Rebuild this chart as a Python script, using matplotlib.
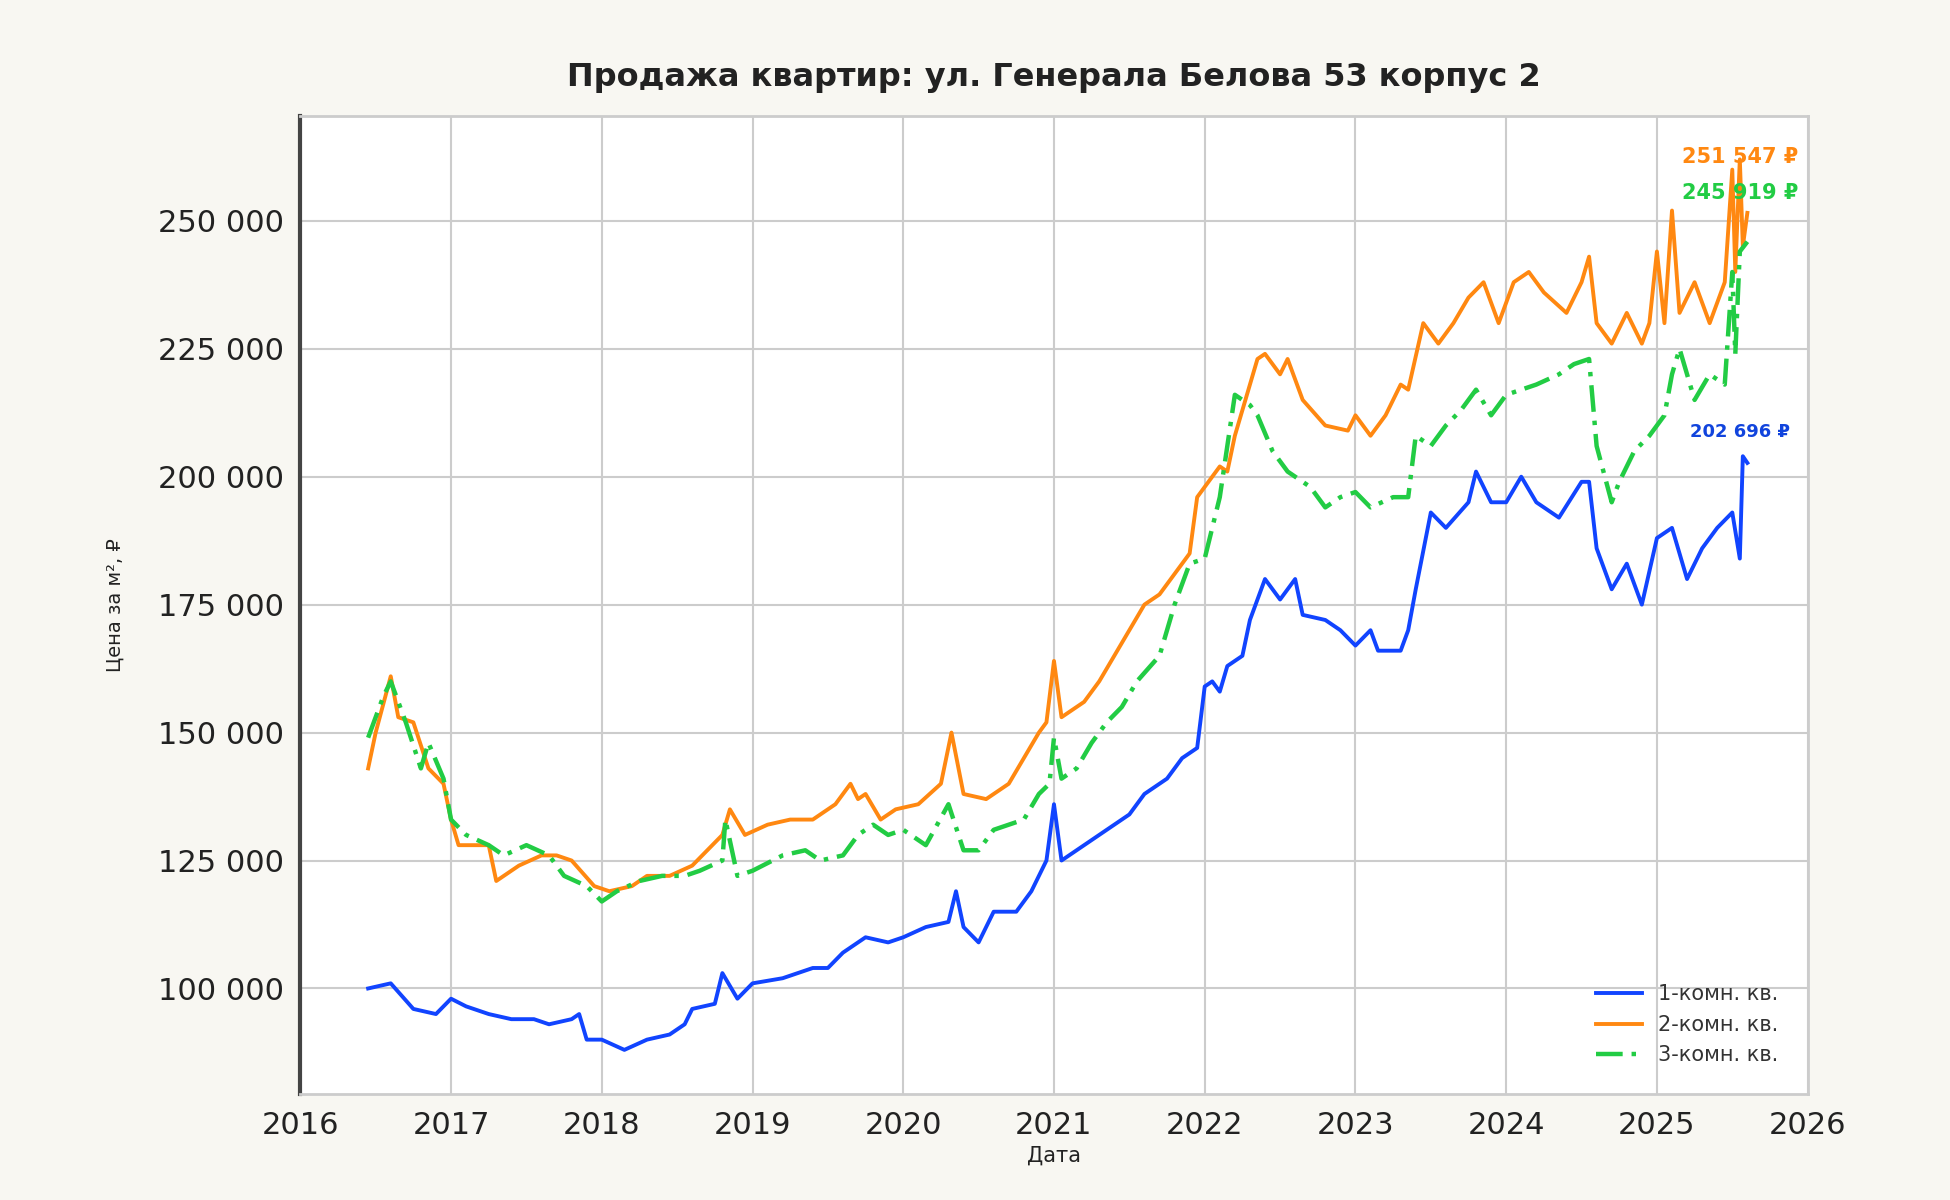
import matplotlib
matplotlib.use("Agg")
import matplotlib.pyplot as plt
from matplotlib.ticker import FuncFormatter

plt.rcParams['font.family'] = ['DejaVu Sans']

t1 = [2016.45,2016.6,2016.75,2016.9,2017.0,2017.1,2017.25,2017.4,2017.55,2017.65,2017.8,2017.85,2017.9,2018.0,2018.15,2018.3,2018.45,2018.55,2018.6,2018.75,2018.8,2018.9,2019.0,2019.2,2019.4,2019.5,2019.6,2019.7,2019.75,2019.9,2020.0,2020.15,2020.3,2020.35,2020.4,2020.5,2020.6,2020.75,2020.85,2020.95,2021.0,2021.05,2021.2,2021.3,2021.4,2021.5,2021.6,2021.75,2021.85,2021.95,2022.0,2022.05,2022.1,2022.15,2022.25,2022.3,2022.4,2022.5,2022.55,2022.6,2022.65,2022.8,2022.9,2023.0,2023.1,2023.15,2023.3,2023.35,2023.4,2023.5,2023.6,2023.75,2023.8,2023.9,2024.0,2024.1,2024.2,2024.35,2024.5,2024.55,2024.6,2024.7,2024.8,2024.9,2025.0,2025.1,2025.2,2025.3,2025.4,2025.5,2025.55,2025.57,2025.6]
v1 = [100,101,96,95,98,96.5,95,94,94,93,94,95,90,90,88,90,91,93,96,97,103,98,101,102,104,104,107,109,110,109,110,112,113,119,112,109,115,115,119,125,136,125,128,130,132,134,138,141,145,147,159,160,158,163,165,172,180,176,178,180,173,172,170,167,170,166,166,170,178,193,190,195,201,195,195,200,195,192,199,199,186,178,183,175,188,190,180,186,190,193,184,204,202.696]

t2 = [2016.45,2016.5,2016.6,2016.65,2016.75,2016.85,2016.95,2017.0,2017.05,2017.2,2017.25,2017.3,2017.45,2017.6,2017.7,2017.8,2017.95,2018.05,2018.2,2018.3,2018.45,2018.6,2018.7,2018.8,2018.85,2018.95,2019.1,2019.25,2019.4,2019.55,2019.65,2019.7,2019.75,2019.85,2019.95,2020.1,2020.25,2020.32,2020.4,2020.55,2020.7,2020.8,2020.9,2020.95,2021.0,2021.05,2021.2,2021.3,2021.4,2021.5,2021.6,2021.7,2021.8,2021.9,2021.95,2022.05,2022.1,2022.15,2022.2,2022.25,2022.35,2022.4,2022.5,2022.55,2022.65,2022.8,2022.95,2023.0,2023.1,2023.2,2023.3,2023.35,2023.45,2023.55,2023.65,2023.75,2023.85,2023.95,2024.05,2024.15,2024.25,2024.4,2024.5,2024.55,2024.6,2024.7,2024.8,2024.9,2024.95,2025.0,2025.05,2025.1,2025.15,2025.25,2025.35,2025.45,2025.5,2025.52,2025.55,2025.57,2025.6]
v2 = [143,150,161,153,152,143,140,133,128,128,128,121,124,126,126,125,120,119,120,122,122,124,127,130,135,130,132,133,133,136,140,137,138,133,135,136,140,150,138,137,140,145,150,152,164,153,156,160,165,170,175,177,181,185,196,200,202,201,208,213,223,224,220,223,215,210,209,212,208,212,218,217,230,226,230,235,238,230,238,240,236,232,238,243,230,226,232,226,230,244,230,252,232,238,230,238,260,240,262,245,251.547]

t3 = [2016.45,2016.55,2016.6,2016.7,2016.8,2016.85,2016.95,2017.0,2017.1,2017.25,2017.35,2017.5,2017.65,2017.75,2017.9,2018.0,2018.1,2018.25,2018.4,2018.55,2018.65,2018.8,2018.82,2018.9,2019.0,2019.2,2019.35,2019.45,2019.6,2019.7,2019.8,2019.9,2020.0,2020.15,2020.3,2020.4,2020.5,2020.6,2020.8,2020.9,2020.97,2021.0,2021.05,2021.15,2021.25,2021.35,2021.45,2021.55,2021.7,2021.8,2021.9,2022.0,2022.05,2022.1,2022.15,2022.2,2022.3,2022.35,2022.45,2022.55,2022.7,2022.8,2022.9,2023.0,2023.1,2023.25,2023.35,2023.4,2023.5,2023.6,2023.7,2023.8,2023.9,2024.0,2024.1,2024.2,2024.35,2024.45,2024.55,2024.6,2024.7,2024.75,2024.85,2024.95,2025.05,2025.1,2025.15,2025.25,2025.35,2025.45,2025.5,2025.52,2025.55,2025.6]
v3 = [149,157,160,152,143,148,141,133,130,128,126,128,126,122,120,117,119,121,122,122,123,125,133,122,123,126,127,125,126,130,132,130,131,128,136,127,127,131,133,138,140,149,141,143,148,152,155,160,165,175,183,184,190,196,206,216,214,212,205,201,198,194,196,197,194,196,196,208,206,210,213,217,212,216,217,218,220,222,223,206,195,199,205,208,212,220,225,215,220,218,240,224,244,245.919]

labels = ["1-комн. кв.", "2-комн. кв.", "3-комн. кв."]
colors = ["#1144ff", "#ff8811", "#22cc44"]

fig = plt.figure(figsize=(19.5, 12), dpi=100, facecolor="#f8f7f2")
ax = fig.add_axes([0.154, 0.088, 0.773, 0.815])
ax.set_facecolor("white")
ax.plot(t1, [v*1000 for v in v1], color=colors[0], lw=2.8, label=labels[0])
ax.plot(t2, [v*1000 for v in v2], color=colors[1], lw=2.8, label=labels[1])
ax.plot(t3, [v*1000 for v in v3], color=colors[2], lw=3.2, ls=(0, (6, 2, 1, 2)), label=labels[2])

ax.set_xlim(2016, 2026)
ax.set_ylim(79300, 270400)
ax.set_xticks(range(2016, 2027))
ax.set_yticks(range(100000, 260000, 25000))
ax.yaxis.set_major_formatter(FuncFormatter(lambda v, p: f"{int(v):,}".replace(",", " ")))
ax.grid(True, color="#cccccc", lw=1.5)
ax.tick_params(labelsize=22, length=0, pad=12, colors="#222222")
for s in ax.spines.values():
    s.set_color("#cccccc"); s.set_linewidth(2)
ax.spines['left'].set_color("#444444"); ax.spines['left'].set_linewidth(3)

ax.set_title("Продажа квартир: ул. Генерала Белова 53 корпус 2", fontsize=23, fontweight="bold", color="#222222", pad=22)
ax.set_xlabel("Дата", fontsize=15, color="#222222", labelpad=4)
ax.set_ylabel("Цена за м², ₽", fontsize=14, color="#222222", labelpad=24)

ax.text(2025.55, 262500, "251 547 ₽", color=colors[1], fontsize=15, fontweight="bold", ha="center", va="center")
ax.text(2025.55, 255500, "245 919 ₽", color=colors[2], fontsize=15, fontweight="bold", ha="center", va="center")
ax.text(2025.55, 208700, "202 696 ₽", color="#1144dd", fontsize=13, fontweight="bold", ha="center", va="center")

leg = ax.legend(loc="lower right", fontsize=15, frameon=False, borderaxespad=1.0, handlelength=2.2)
for t in leg.get_texts():
    t.set_color("#333333")

fig.savefig("out.png", dpi=100, facecolor=fig.get_facecolor())
